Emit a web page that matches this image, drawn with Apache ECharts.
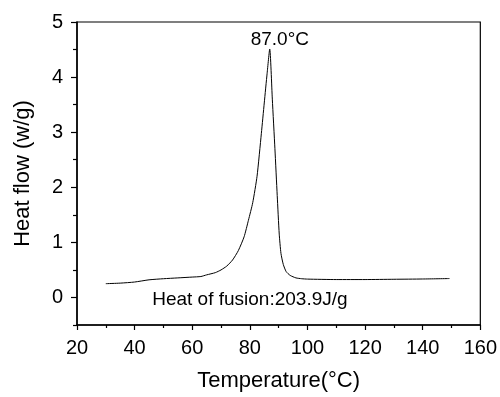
<!DOCTYPE html>
<html>
<head>
<meta charset="utf-8">
<script src="https://cdn.jsdelivr.net/npm/echarts@6/dist/echarts.min.js"></script>
<style>
  html, body { margin: 0; padding: 0; background: #fff; }
  #chart { width: 500px; height: 397px; }
</style>
</head>
<body>
<div id="chart"></div>
<script>
// DSC curve: temperature (°C) and heat flow (w/g)
var temperature = [30, 35, 40, 45, 50, 55, 60, 63, 65, 68, 70, 72, 74, 76, 78, 79.5, 81, 82.5, 84, 85, 86, 86.9,
  87.8, 88.7, 89.5, 90.2, 90.8, 91.6, 92.6, 94, 96, 98, 100, 110, 120, 130, 140, 149.3];
var heatFlow = [0.25, 0.26, 0.28, 0.32, 0.34, 0.355, 0.37, 0.38, 0.41, 0.45, 0.50, 0.57, 0.68, 0.85, 1.10, 1.40, 1.72, 2.20, 2.98, 3.53, 4.07, 4.51,
  3.6, 2.7, 1.85, 1.15, 0.8, 0.6, 0.47, 0.40, 0.355, 0.34, 0.333, 0.325, 0.325, 0.33, 0.335, 0.343];

var xTicks = [20, 40, 60, 80, 100, 120, 140, 160];
var yTicks = [0, 1, 2, 3, 4, 5];
var yMinorTicks = [-0.5, 0.5, 1.5, 2.5, 3.5, 4.5];

var peakLabel = '87.0°C';
var fusionLabel = 'Heat of fusion:203.9J/g';

var font = '"Liberation Sans", Arial, sans-serif';

var chart = echarts.init(document.getElementById('chart'));

var points = temperature.map(function (t, i) { return [t, heatFlow[i]]; });

chart.setOption({
  animation: false,
  textStyle: { fontFamily: font, color: '#000' },
  grid: {
    left: 77, right: 17, top: 22, bottom: 70,
    show: true, borderColor: '#000', borderWidth: 1.2
  },
  xAxis: {
    type: 'value',
    min: xTicks[0],
    max: xTicks[xTicks.length - 1],
    interval: 20,
    name: 'Temperature(°C)',
    nameLocation: 'middle',
    nameGap: 45,
    nameTextStyle: { fontSize: 22, color: '#000', fontFamily: font },
    axisLine: { onZero: false, lineStyle: { color: '#000', width: 1.5 } },
    axisTick: { inside: false, length: 5, lineStyle: { color: '#000', width: 1.2 } },
    minorTick: { show: true, splitNumber: 2, length: 3, lineStyle: { color: '#000', width: 1.2 } },
    axisLabel: { fontSize: 20, color: '#000', margin: 13, fontFamily: font },
    splitLine: { show: false },
    minorSplitLine: { show: false }
  },
  yAxis: [{
    type: 'value',
    min: -0.5,
    max: 5,
    name: 'Heat flow (w/g)',
    nameLocation: 'middle',
    nameGap: 43,
    nameTextStyle: { fontSize: 22, color: '#000', fontFamily: font },
    axisLine: { onZero: false, lineStyle: { color: '#000', width: 1.5 } },
    axisTick: { inside: false, length: 6, customValues: yTicks, lineStyle: { color: '#000', width: 1.2 } },
    axisLabel: { fontSize: 20, color: '#000', margin: 14, customValues: yTicks, fontFamily: font },
    splitLine: { show: false }
  }, {
    type: 'value',
    position: 'left',
    min: -0.5,
    max: 5,
    axisLine: { show: false },
    axisTick: { inside: false, length: 4, customValues: yMinorTicks, lineStyle: { color: '#000', width: 1.2 } },
    axisLabel: { show: false },
    splitLine: { show: false }
  }],
  series: [{
    type: 'line',
    data: points,
    showSymbol: false,
    smooth: 0.2,
    lineStyle: { color: '#000', width: 1 },
    markPoint: {
      symbol: 'circle',
      symbolSize: 0,
      silent: true,
      data: [
        { coord: [90.4, 4.68], label: { show: true, position: 'inside', formatter: peakLabel, fontSize: 19, color: '#000', fontFamily: font } },
        { coord: [46.1, -0.045], label: { show: true, position: 'right', distance: 0, formatter: fusionLabel, fontSize: 19, color: '#000', fontFamily: font } }
      ]
    }
  }]
});
</script>
</body>
</html>
